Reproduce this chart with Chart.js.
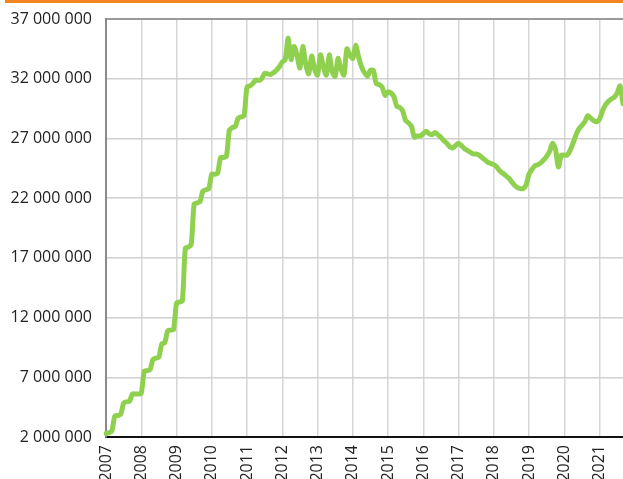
<!DOCTYPE html>
<html>
<head>
<meta charset="utf-8">
<script src="https://cdn.jsdelivr.net/npm/chart.js@4"></script>
<style>
    html, body { margin: 0; padding: 0; background: #fff; }
    #wrap { position: relative; width: 623px; height: 479px; overflow: hidden; }
    #topbar { position: absolute; left: 5px; right: 0; top: 0; height: 3px; background: #f5841f; }
    #chart { position: absolute; left: 0; top: 0; }
</style>
</head>
<body>
<div id="wrap">
    <canvas id="chart" width="623" height="479"></canvas>
    <div id="topbar"></div>
</div>
<script>
// monthly values, millions
const v2007 = [2.3, 2.35, 2.5, 3.75, 3.8, 3.9, 4.85, 4.95, 5.0, 5.6, 5.6, 5.6];
const v2008 = [5.65, 7.5, 7.55, 7.65, 8.5, 8.6, 8.7, 9.8, 9.9, 10.9, 10.95, 11.0];
const v2009 = [13.2, 13.3, 13.4, 17.8, 17.9, 18.1, 21.5, 21.6, 21.7, 22.6, 22.7, 22.8];
const v2010 = [24.0, 24.0, 24.1, 25.4, 25.4, 25.5, 27.7, 27.9, 28.0, 28.7, 28.8, 28.9];
const v2011 = [31.3, 31.4, 31.6, 31.9, 31.85, 32.0, 32.45, 32.4, 32.35, 32.5, 32.7, 33.0];
const v2012 = [33.4, 33.6, 35.4, 33.6, 34.7, 34.0, 32.9, 34.7, 33.2, 32.4, 33.9, 32.8];
const v2013 = [32.3, 34.0, 33.0, 32.3, 34.0, 32.6, 32.2, 33.7, 32.8, 32.3, 34.5, 34.0];
const v2014 = [33.7, 34.8, 33.8, 33.0, 32.5, 32.2, 32.7, 32.7, 31.6, 31.5, 31.3, 30.6];
const v2015 = [30.9, 30.8, 30.5, 29.7, 29.6, 29.3, 28.5, 28.3, 28.0, 27.1, 27.2, 27.2];
const v2016 = [27.4, 27.6, 27.4, 27.3, 27.5, 27.3, 27.1, 26.8, 26.6, 26.3, 26.2, 26.4];
const v2017 = [26.6, 26.4, 26.15, 26.0, 25.85, 25.7, 25.7, 25.6, 25.4, 25.2, 25.0, 24.9];
const v2018 = [24.8, 24.6, 24.3, 24.1, 23.9, 23.7, 23.4, 23.1, 22.9, 22.8, 22.8, 23.1];
const v2019 = [24.0, 24.4, 24.7, 24.8, 24.95, 25.2, 25.5, 25.9, 26.6, 26.1, 24.6, 25.6];
const v2020 = [25.6, 25.6, 26.0, 26.6, 27.3, 27.8, 28.1, 28.4, 28.9, 28.7, 28.5, 28.4];
const v2021 = [28.6, 29.3, 29.8, 30.1, 30.3, 30.45, 30.8, 31.4, 29.9];

const years = ["2007", "2008", "2009", "2010", "2011", "2012", "2013", "2014",
    "2015", "2016", "2017", "2018", "2019", "2020", "2021"];
const yTicks = [2, 7, 12, 17, 22, 27, 32, 37];

const series = [v2007, v2008, v2009, v2010, v2011, v2012, v2013, v2014,
    v2015, v2016, v2017, v2018, v2019, v2020, v2021];

const labels = [];
const values = [];
series.forEach((arr, yi) => {
    arr.forEach((v, m) => {
        labels.push(m === 0 ? years[yi] : "");
        values.push(v);
    });
});

function fmt(m) {
    return String(Math.round(m * 1000000)).replace(/\B(?=(\d{3})+(?!\d))/g, " ");
}

const font = { family: "'Open Sans', sans-serif", size: 16 };

new Chart(document.getElementById("chart"), {
    type: "line",
    data: {
        labels: labels,
        datasets: [{
            data: values,
            borderColor: "#8fd14f",
            borderWidth: 5,
            pointRadius: 0,
            tension: 0.25,
            borderJoinStyle: "round",
            borderCapStyle: "round"
        }]
    },
    options: {
        responsive: false,
        animation: false,
        layout: { padding: { top: 19, right: 0, left: 0, bottom: 0 } },
        plugins: {
            legend: { display: false },
            tooltip: { enabled: false }
        },
        scales: {
            x: {
                offset: false,
                afterFit: s => {
                    s.height = 42;
                    s.paddingLeft = 0;
                    s.paddingRight = 0;
                },
                border: { color: "#111", width: 2 },
                grid: {
                    drawTicks: false,
                    color: c => (c.index % 12 === 0 ? "#d6d6d6" : "rgba(0,0,0,0)"),
                    lineWidth: 1.5
                },
                ticks: {
                    autoSkip: false,
                    minRotation: 90,
                    maxRotation: 90,
                    padding: 8,
                    color: "#222",
                    font: font
                }
            },
            y: {
                min: 2,
                max: 37,
                afterFit: s => {
                    s.width = 106;
                    s.paddingTop = 0;
                    s.paddingBottom = 0;
                },
                afterBuildTicks: s => { s.ticks = yTicks.map(v => ({ value: v })); },
                border: { color: "#8a8a8a", width: 2 },
                grid: {
                    drawTicks: false,
                    color: c => (c.tick && c.tick.value === 37 ? "#9a9a9a" : "#d0d0d0"),
                    lineWidth: c => (c.tick && c.tick.value === 37 ? 2 : 1.5)
                },
                ticks: {
                    padding: 14,
                    color: "#222",
                    font: font,
                    callback: v => fmt(v)
                }
            }
        }
    }
});
</script>
</body>
</html>
